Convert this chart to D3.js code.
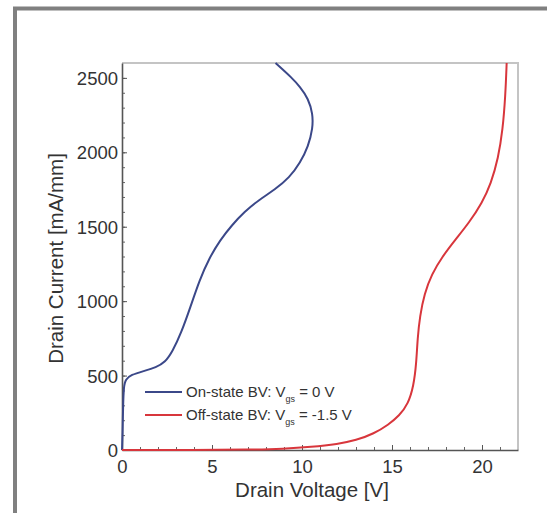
<!DOCTYPE html>
<html><head><meta charset="utf-8">
<script src="https://cdn.jsdelivr.net/npm/d3@7"></script>
<style>body{margin:0;background:#fff;overflow:hidden}svg{display:block;font-family:"Liberation Sans",Arial,sans-serif}</style>
</head><body>
<script>
const onV = [0, 0.03, 0.06, 0.1, 0.2, 0.5, 1.2, 1.9, 2.4, 2.8, 3.3, 3.8, 4.3, 4.85, 5.45, 6.1, 6.8, 7.6, 8.5, 9.3, 9.9, 10.35, 10.6, 10.6, 10.35, 9.9, 9.35, 8.9, 8.53];
const onI = [0, 100, 300, 430, 475, 505, 530, 555, 590, 660, 790, 960, 1140, 1290, 1410, 1510, 1600, 1680, 1750, 1830, 1930, 2040, 2160, 2260, 2360, 2440, 2510, 2560, 2600];
const offV = [0, 4, 7, 9, 10.5, 12, 13, 14, 14.8, 15.4, 15.9, 16.2, 16.35, 16.42, 16.55, 16.8, 17.2, 17.8, 18.5, 19.3, 20.0, 20.5, 20.9, 21.15, 21.3, 21.37];
const offI = [0, 0, 2, 8, 20, 40, 65, 110, 170, 230, 310, 430, 580, 750, 900, 1050, 1180, 1300, 1410, 1530, 1660, 1790, 1960, 2150, 2380, 2600];
const xTicks = [0, 5, 10, 15, 20];
const yTicks = [0, 500, 1000, 1500, 2000, 2500];
const legendLabels = [["On-state BV: V", "gs", " = 0 V"], ["Off-state BV: V", "gs", " = -1.5 V"]];
const colors = ["#3b4889", "#d8363c"];

const W = 547, H = 513;
const m = {l: 122, r: 518, t: 63, b: 450};
const svg = d3.select("body").append("svg").attr("width", W).attr("height", H);

// outer frame
svg.append("rect").attr("x", 15).attr("y", 8.5).attr("width", 600).attr("height", 600)
  .attr("fill", "none").attr("stroke", "#808080").attr("stroke-width", 4);

const x = d3.scaleLinear().domain([0, 22]).range([m.l, m.r]);
const y = d3.scaleLinear().domain([0, 2600]).range([m.b, m.t]);

// light frame top/right
svg.append("path").attr("d", `M${m.l},${m.t}H${m.r}V${m.b}`).attr("fill", "none")
  .attr("stroke", "#c4c4c4").attr("stroke-width", 2);

// minor ticks
const gx = svg.append("g").attr("transform", `translate(0,${m.b})`);
gx.call(d3.axisBottom(x).tickValues(d3.range(0, 22, 1)).tickSize(-3).tickFormat(""))
  .call(g => g.select(".domain").remove()).selectAll("line").attr("stroke", "#666");
const gy = svg.append("g").attr("transform", `translate(${m.l},0)`);
gy.call(d3.axisLeft(y).tickValues(d3.range(0, 2600, 100)).tickSize(-3).tickFormat(""))
  .call(g => g.select(".domain").remove()).selectAll("line").attr("stroke", "#666");

// major axes
const ax = svg.append("g").attr("transform", `translate(0,${m.b})`)
  .call(d3.axisBottom(x).tickValues(xTicks).tickFormat(d3.format("d")).tickSizeInner(-5).tickSizeOuter(0).tickPadding(10));
const ay = svg.append("g").attr("transform", `translate(${m.l},0)`)
  .call(d3.axisLeft(y).tickValues(yTicks).tickFormat(d3.format("d")).tickSizeInner(-5).tickSizeOuter(0).tickPadding(4));
[ax, ay].forEach(g => {
  g.select(".domain").attr("stroke", "#555").attr("stroke-width", 1.6);
  g.selectAll("line").attr("stroke", "#555");
  g.selectAll("text").attr("fill", "#333").style("font-size", "18.5px");
});
ax.selectAll("text").attr("dy", "0.71em");
ay.selectAll("text").attr("dy", "0.35em");

// axis titles
svg.append("text").attr("x", (m.l + m.r) / 2 - 8).attr("y", 497).attr("text-anchor", "middle")
  .attr("fill", "#333").style("font-size", "20.5px").text("Drain Voltage [V]");
svg.append("text").attr("transform", `translate(63,${(m.t + m.b) / 2 + 2}) rotate(-90)`)
  .attr("text-anchor", "middle").attr("fill", "#333").style("font-size", "20.5px").text("Drain Current [mA/mm]");

// curves
const lineX = d3.line().x(d => x(d[0])).y(d => y(d[1])).curve(d3.curveBasis);
svg.append("path").datum(onV.map((v, i) => [v, onI[i]])).attr("d", lineX)
  .attr("fill", "none").attr("stroke", colors[0]).attr("stroke-width", 2);
svg.append("path").datum(offV.map((v, i) => [v, offI[i]])).attr("d", lineX)
  .attr("fill", "none").attr("stroke", colors[1]).attr("stroke-width", 2);

// legend
legendLabels.forEach((lab, i) => {
  const ly = 392 + i * 23;
  svg.append("line").attr("x1", 145).attr("x2", 182).attr("y1", ly).attr("y2", ly)
    .attr("stroke", colors[i]).attr("stroke-width", 2);
  const t = svg.append("text").attr("x", 186).attr("y", ly + 5).attr("fill", "#333").style("font-size", "15px");
  t.append("tspan").text(lab[0]);
  t.append("tspan").attr("dy", 5).style("font-size", "9px").text(lab[1]);
  t.append("tspan").attr("dy", -5).text(lab[2]);
});
</script>
</body></html>
